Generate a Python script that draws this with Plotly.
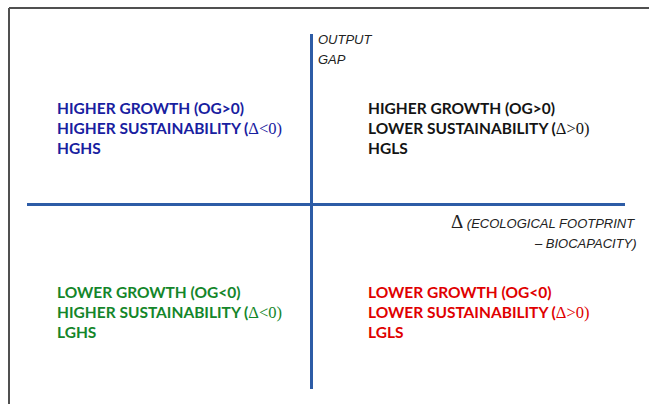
import plotly.graph_objects as go

# ---- data ----
quadrant_names = ["HGHS", "HGLS", "LGHS", "LGLS"]
growth_lines = ["HIGHER GROWTH (OG>0)", "HIGHER GROWTH (OG>0)",
                "LOWER GROWTH (OG<0)", "LOWER GROWTH (OG<0)"]
sustain_words = ["HIGHER SUSTAINABILITY", "LOWER SUSTAINABILITY",
                 "HIGHER SUSTAINABILITY", "LOWER SUSTAINABILITY"]
delta_signs = ["<0", ">0", "<0", ">0"]
quadrant_colors = ["#1820a0", "#141414", "#14862a", "#e00000"]
y_axis_title = ["OUTPUT", "GAP"]
x_axis_title = ["(ECOLOGICAL FOOTPRINT", "– BIOCAPACITY)"]

# ---- layout geometry (pixels) ----
W, H = 649, 404
ML, MR, MT, MB = 27, 24, 34, 15
PW, PH = W - ML - MR, H - MT - MB


def px(x):
    return (x - ML) / PW


def py(y):
    return (H - MB - y) / PH


fig = go.Figure()
fig.add_trace(go.Scatter(x=[None], y=[None], showlegend=False, hoverinfo="skip"))

quad_text_font = "Lato, Carlito, 'Open Sans', sans-serif"
serif = "'Liberation Serif', 'DejaVu Serif', serif"

left_x, right_x = 55, 366
top_ys = [108, 128, 148]
bot_ys = [292, 312, 332]
qx = [left_x, right_x, left_x, right_x]
qys = [top_ys, top_ys, bot_ys, bot_ys]

annotations = []
for i in range(4):
    lines = [
        f"<b>{growth_lines[i]}</b>",
        f"<b>{sustain_words[i]} (</b><span style=\"font-family:{serif};font-weight:normal;font-size:16.5px\">Δ{delta_signs[i]})</span>",
        f"<b>{quadrant_names[i]}</b>",
    ]
    for t, yy in zip(lines, qys[i]):
        annotations.append(dict(
            text=t, x=px(qx[i]), y=py(yy), xref="paper", yref="paper",
            xanchor="left", yanchor="middle", showarrow=False,
            font=dict(family=quad_text_font, size=15.5, color=quadrant_colors[i]),
        ))

axis_font = "'Liberation Sans', Arial, sans-serif"
for t, yy in zip(y_axis_title, [40, 59]):
    annotations.append(dict(
        text=f"<i>{t}</i>", x=px(316), y=py(yy), xref="paper", yref="paper",
        xanchor="left", yanchor="middle", showarrow=False,
        font=dict(family=axis_font, size=13, color="#222222"),
    ))

annotations.append(dict(
    text=f"<span style=\"font-family:{serif};font-size:19px\">Δ</span> <i>{x_axis_title[0]}</i>",
    x=px(637), y=py(221), xref="paper", yref="paper",
    xanchor="right", yanchor="middle", showarrow=False,
    font=dict(family=axis_font, size=13, color="#222222"),
))
annotations.append(dict(
    text=f"<i>{x_axis_title[1]}</i>",
    x=px(639), y=py(243), xref="paper", yref="paper",
    xanchor="right", yanchor="middle", showarrow=False,
    font=dict(family=axis_font, size=13, color="#222222"),
))

shapes = [
    dict(type="line", xref="paper", yref="paper", x0=px(9), x1=px(W + 2), y0=py(8), y1=py(8),
         line=dict(color="#505050", width=2)),
    dict(type="line", xref="paper", yref="paper", x0=px(9), x1=px(9), y0=py(8), y1=py(H + 2),
         line=dict(color="#505050", width=2)),
]

axis_common = dict(showgrid=False, showticklabels=False, ticks="", showline=False,
                   zeroline=True, zerolinecolor="#2d5ca6", zerolinewidth=2.5, fixedrange=True)

fig.update_layout(
    width=W, height=H,
    margin=dict(l=ML, r=MR, t=MT, b=MB),
    paper_bgcolor="white", plot_bgcolor="white",
    xaxis=dict(range=[-0.95, 1.05], **axis_common),
    yaxis=dict(range=[-1.04, 0.96], **axis_common),
    annotations=annotations,
    shapes=shapes,
    showlegend=False,
)

fig.write_html("out.html", config={"displayModeBar": False},
               post_script="document.body.style.margin='0';document.body.style.overflow='hidden';")
